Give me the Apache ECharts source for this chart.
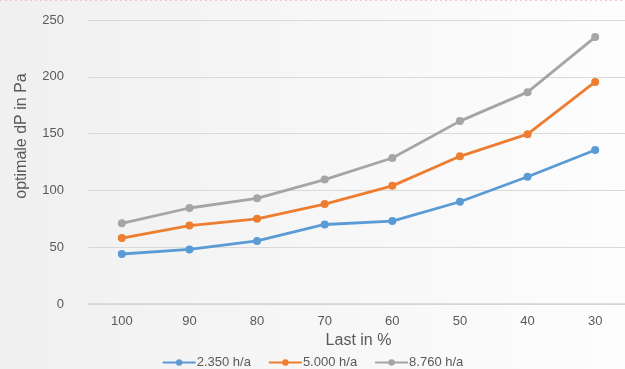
<!DOCTYPE html>
<html>
<head>
<meta charset="utf-8">
<script src="https://cdn.jsdelivr.net/npm/echarts@6/dist/echarts.min.js"></script>
<style>
  html, body { margin: 0; padding: 0; }
  #chart { width: 625px; height: 369px; }
</style>
</head>
<body>
<div id="chart"></div>
<script>
// Load levels on the x axis (percent), and optimal pressure drop per operating hours
const categories = ['100', '90', '80', '70', '60', '50', '40', '30'];
const seriesNames = ['2.350 h/a', '5.000 h/a', '8.760 h/a'];
const hours2350 = [44, 48, 55.5, 70, 73, 90, 112, 135.5];
const hours5000 = [58, 69, 75, 88, 104, 130, 149.5, 195.5];
const hours8760 = [71, 84.5, 93, 109.5, 128.5, 161, 186.5, 235];
const yTicks = { min: 0, max: 250, interval: 50 };

const colors = ['#5b9bd5', '#ed7d31', '#a5a5a5'];
const font = '"Liberation Sans", Arial, sans-serif';

const chart = echarts.init(document.getElementById('chart'));

function lineSeries(name, data, color) {
  return {
    name: name,
    type: 'line',
    data: data,
    symbol: 'circle',
    symbolSize: 8,
    lineStyle: { width: 2.8, color: color },
    itemStyle: { color: color },
    emphasis: { disabled: true }
  };
}

chart.setOption({
  animation: false,
  backgroundColor: {
    type: 'linear', x: 0, y: 0, x2: 1, y2: 0,
    colorStops: [
      { offset: 0, color: '#f0f0f0' },
      { offset: 1, color: '#fdfdfd' }
    ]
  },
  // the plot area runs a few pixels past the right edge of the canvas
  grid: { left: 88, top: 20, width: 541, height: 284, outerBoundsMode: 'none', containLabel: false },
  legend: {
    top: 351,
    left: 'center',
    itemWidth: 33,
    itemHeight: 8,
    itemGap: 17,
    textStyle: { fontFamily: font, fontSize: 13, color: '#595959', padding: [0, 0, 0, -4] },
    data: seriesNames
  },
  xAxis: {
    type: 'category',
    data: categories,
    name: 'Last in %',
    nameLocation: 'middle',
    nameGap: 27,
    nameTextStyle: { fontFamily: font, fontSize: 16, color: '#595959' },
    axisLine: { lineStyle: { color: '#d4d4d4', width: 1.5 } },
    axisTick: { show: false },
    axisLabel: { fontFamily: font, fontSize: 13, color: '#595959', margin: 11 }
  },
  yAxis: {
    type: 'value',
    min: yTicks.min,
    max: yTicks.max,
    interval: yTicks.interval,
    name: 'optimale dP in Pa',
    nameLocation: 'middle',
    nameGap: 58,
    nameRotate: 90,
    nameTextStyle: { fontFamily: font, fontSize: 16, color: '#595959', padding: [0, 0, 0, 52] },
    axisLine: { show: false },
    axisTick: { show: false },
    axisLabel: { fontFamily: font, fontSize: 13, color: '#595959', margin: 24 },
    splitLine: { lineStyle: { color: '#d9d9d9', width: 1 } }
  },
  graphic: [{
    type: 'line',
    shape: { x1: 0, y1: 0.5, x2: 625, y2: 0.5 },
    style: { stroke: '#f4c7c7', lineWidth: 1, lineDash: [2, 3] },
    silent: true
  }],
  series: [
    lineSeries(seriesNames[0], hours2350, colors[0]),
    lineSeries(seriesNames[1], hours5000, colors[1]),
    lineSeries(seriesNames[2], hours8760, colors[2])
  ]
});
</script>
</body>
</html>
